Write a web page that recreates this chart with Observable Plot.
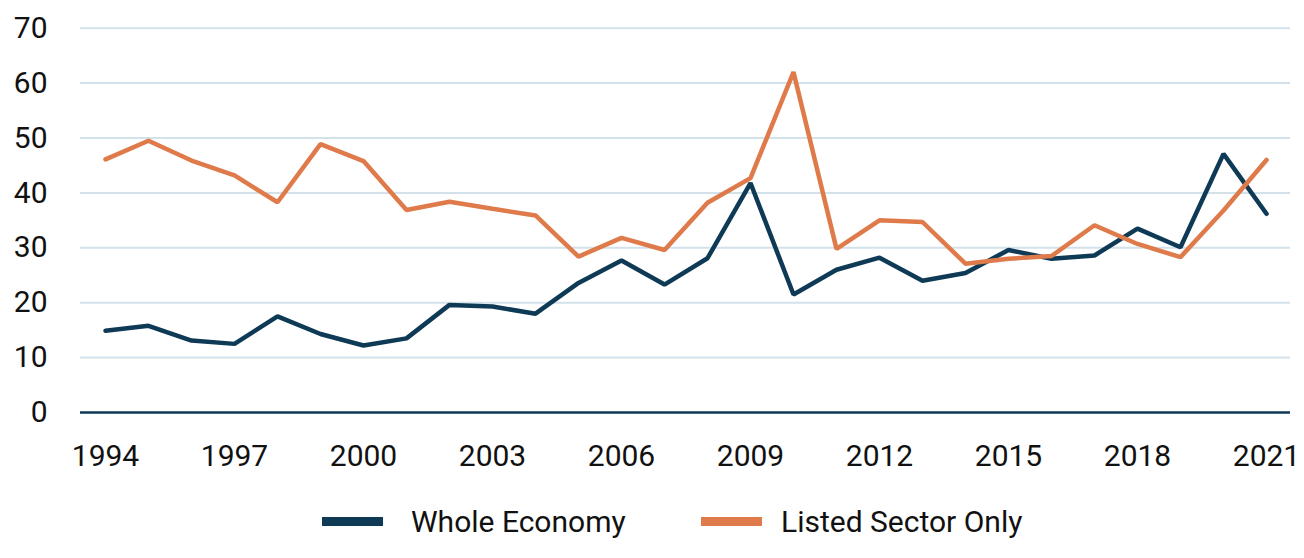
<!DOCTYPE html>
<html>
<head>
<meta charset="utf-8">
<script src="https://cdn.jsdelivr.net/npm/d3@7"></script>
<script src="https://cdn.jsdelivr.net/npm/@observablehq/plot@0.6"></script>
<style>
  html, body { margin: 0; padding: 0; background: #fff; }
  body { width: 1304px; height: 558px; overflow: hidden; font-family: Roboto, "Noto Sans", sans-serif; position: relative; }
  #legend { position: relative; height: 68px; }
  .sw { position: absolute; height: 9px; top: 27px; }
  .lt { position: absolute; top: 14px; font-size: 30px; line-height: 36px; color: #111; white-space: nowrap; }
</style>
</head>
<body>
<div id="chart"></div>
<div id="legend"></div>
<script>
const years = d3.range(1994, 2022);
const seriesNames = ["Whole Economy", "Listed Sector Only"];
const seriesColors = ["#0e3a56", "#df7b4b"];
const wholeEconomy = [14.9, 15.8, 13.1, 12.5, 17.5, 14.3, 12.2, 13.5, 19.6, 19.3, 18.0, 23.6, 27.7, 23.3, 28.1, 41.8, 21.5, 26.0, 28.2, 24.0, 25.4, 29.6, 28.0, 28.6, 33.5, 30.1, 47.1, 36.2];
const listedSector = [46.1, 49.5, 45.9, 43.2, 38.3, 48.9, 45.8, 36.9, 38.4, 37.1, 35.9, 28.4, 31.8, 29.6, 38.2, 42.7, 62.0, 29.8, 35.0, 34.7, 27.1, 28.0, 28.5, 34.1, 30.7, 28.3, 36.8, 46.0];
const yTicks = [0, 10, 20, 30, 40, 50, 60, 70];
const xTicks = years.filter(y => (y - 1994) % 3 === 0);

const data = [];
years.forEach((y, i) => {
  data.push({year: y, value: wholeEconomy[i], series: seriesNames[0]});
});
years.forEach((y, i) => {
  data.push({year: y, value: listedSector[i], series: seriesNames[1]});
});

const chart = Plot.plot({
  width: 1304,
  height: 490,
  marginLeft: 80,
  marginRight: 14,
  marginTop: 27.7,
  marginBottom: 78,
  style: {fontFamily: "Roboto, sans-serif", fontSize: "30px", color: "#111", background: "#fff"},
  x: {type: "point", domain: years, padding: 0.5, label: null},
  y: {domain: [0, 70], label: null},
  color: {domain: seriesNames, range: seriesColors},
  marks: [
    Plot.ruleY(yTicks.filter(d => d > 0), {stroke: "#d3e2ea", strokeWidth: 2}),
    Plot.ruleY([0], {stroke: "#0e3a56", strokeWidth: 2.5}),
    Plot.axisY({ticks: yTicks, tickSize: 0, tickPadding: 33, fontSize: 30, label: null}),
    Plot.axisX({ticks: xTicks, tickFormat: d => String(d), tickSize: 0, tickPadding: 32, fontSize: 30, label: null}),
    Plot.line(data, {x: "year", y: "value", z: "series", stroke: "series", strokeWidth: 4.5, strokeLinejoin: "miter", strokeLinecap: "round"})
  ]
});
document.getElementById("chart").appendChild(chart);

const legend = document.getElementById("legend");
const pos = [{sw: 322, tx: 411}, {sw: 701, tx: 781}];
seriesNames.forEach((name, i) => {
  const s = document.createElement("div");
  s.className = "sw";
  s.style.left = pos[i].sw + "px";
  s.style.width = "61px";
  s.style.background = seriesColors[i];
  legend.appendChild(s);
  const t = document.createElement("div");
  t.className = "lt";
  t.style.left = pos[i].tx + "px";
  t.textContent = name;
  legend.appendChild(t);
});
</script>
</body>
</html>
